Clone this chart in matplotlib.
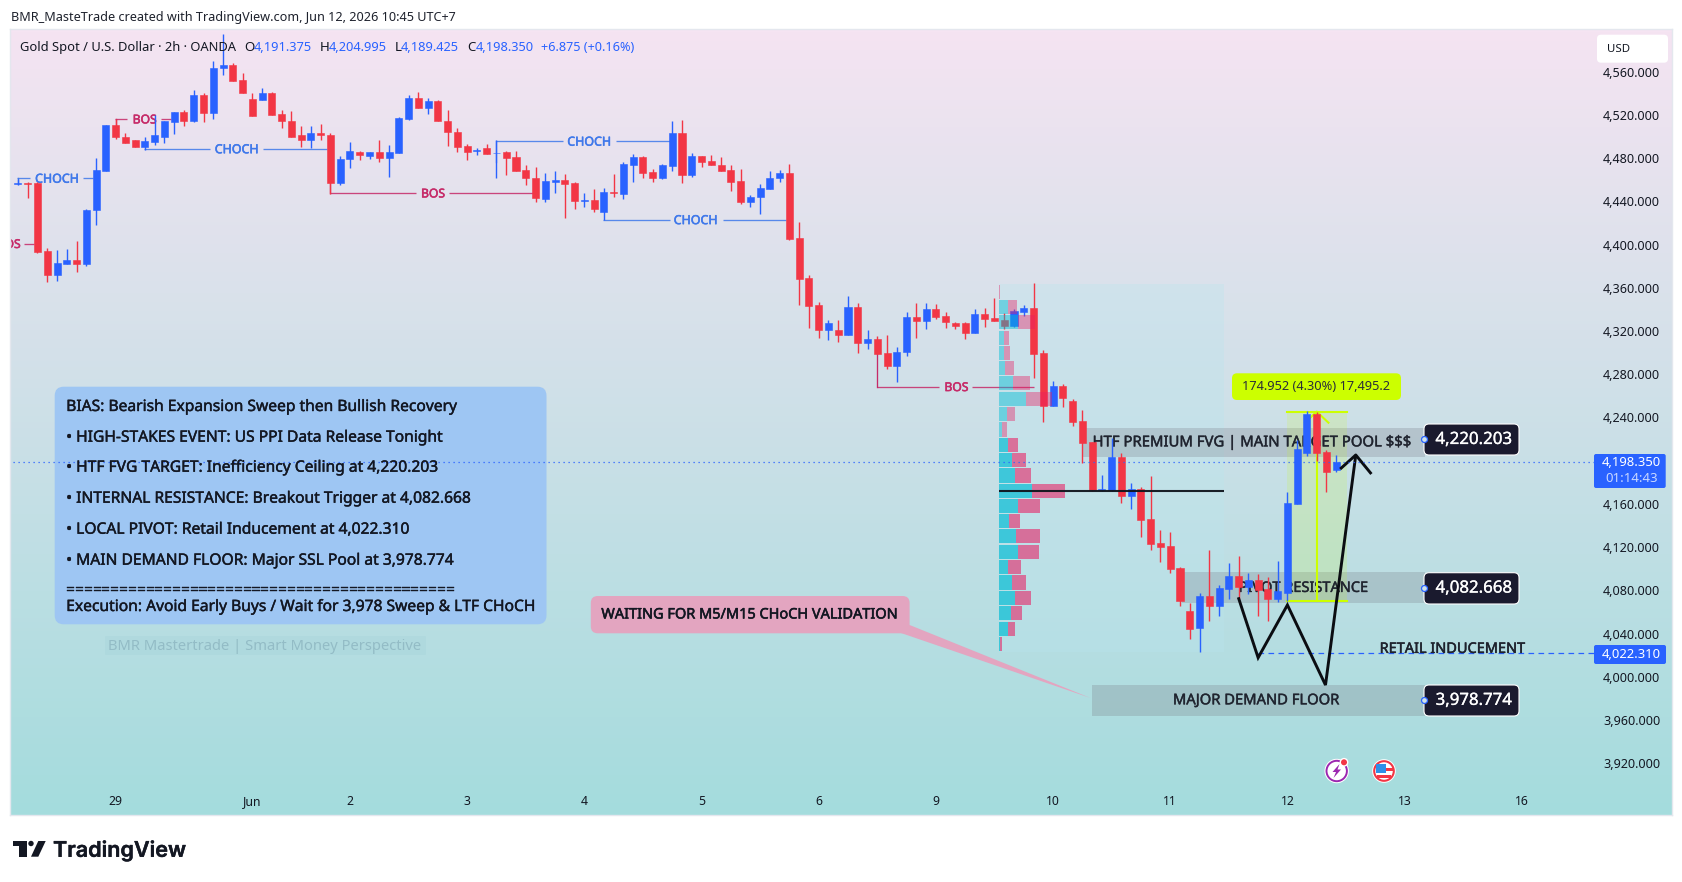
import numpy as np
import matplotlib
matplotlib.use("Agg")
import matplotlib.pyplot as plt
import matplotlib.patheffects as pe
from matplotlib.colors import LinearSegmentedColormap
from matplotlib.patches import FancyBboxPatch, Rectangle, Circle, Polygon
from matplotlib.transforms import Affine2D

plt.rcParams['font.family'] = ['Noto Sans', 'DejaVu Sans']

# ---------- data ----------
opens = [4456,4457,4457,4394,4372,4382,4386,4382,4432,4468,4511,4500,4497,4490,4495,4500,4513,4523,4514,4538,
         4522,4563,4566,4552,4535,4534,4540,4521,4514,4501,4497,4503,4501,4457,4479,4486,4482,4486,4480,4485,
         4516,4536,4526,4533,4514,4504,4491,4486.6,4489,4484.4,4486,4481,4469,4462,4442,4458,4460,4457,4440.6,4441,
         4430,4449,4447,4474,4481,4467,4462,4473,4503,4464,4482,4477,4474,4469,4459,4439,4444,4451,4462,4466,
         4406,4369,4344,4321,4321,4316,4342,4309,4313,4300,4288,4301,4333,4329,4340,4334,4327,4327,4318,4336,
         4332,4330,4325,4338,4341,4300,4251,4269,4255,4237,4217,4173,4173,4203,4167,4174,4146,4124,4121,4101,
         4061,4045,4075,4066,4081,4093,4083,4090,4081,4072,4078,4160,4207,4243,4208,4191.375]
highs = [4461,4458,4458,4397,4395,4396,4403,4433,4480,4511,4516,4503,4497,4500,4520,4514,4523,4525,4543,4540,
         4570,4595,4568,4559,4540,4545,4541,4525,4524,4510,4510,4512,4503,4482,4495,4487,4486,4497,4492,4518,
         4538,4541,4536,4534,4525,4508,4493,4489,4493,4497,4487,4487,4474,4472,4466,4468,4465,4458,4448,4451,
         4452,4465,4476,4484,4482,4470,4475,4514,4515,4485,4482,4483,4481,4474,4470,4446,4456,4468,4469,4475,
         4421,4372,4347,4330,4330,4352,4346,4321,4315,4316,4305,4338,4346,4346,4345,4338,4328,4328,4340,4341,
         4351,4337,4340,4344,4364,4302,4274,4271,4257,4247,4217,4187,4221,4207,4179,4176,4186,4136,4134,4102,
         4068,4078,4117,4085,4105,4112,4096,4095,4092,4107,4171,4219,4246,4245,4210,4204.995]
lows = [4455,4443,4392,4365,4366,4382,4375,4380,4418,4468,4498,4494,4490,4488,4492,4494,4502,4510,4513,4513,
        4516,4557,4551,4540,4519,4534,4520,4508,4500,4490,4489,4497,4447,4455,4471,4478,4479,4476,4463,4485,
        4515,4526,4521,4514,4491,4486,4478,4483,4484,4462,4464,4468,4455,4439,4439,4448,4425,4433,4435,4430,
        4423,4444,4442,4458,4462,4458,4461,4468,4457,4463,4472,4474,4468,4450,4438,4435,4428,4451,4458,4404,
        4344,4323,4314,4312,4310,4316,4300,4303,4299,4285,4273,4297,4314,4322,4331,4323,4322,4313,4318,4324,
        4329,4322,4324,4334,4277,4236,4251,4250,4232,4198,4172,4172,4172,4161,4155,4129,4117,4106,4096,4066,
        4035,4023,4052,4056,4072,4072,4077,4056,4052,4069,4070,4160,4204,4200,4171,4189.425]
closes = [4457,4456,4393,4372,4383,4386,4382,4432,4469,4511,4500,4494,4490,4496,4501,4514,4523,4514,4538,4522,
          4563,4566,4551,4540,4519,4540,4520,4514,4500,4497,4503,4501,4457,4479,4487,4483,4486,4480,4486,4517,
          4536,4526,4533,4514,4504,4490,4486,4487.2,4484,4485,4480,4468,4462,4443,4459,4460,4456,4440,4441.3,4433,
          4449,4448,4475,4481,4466,4462,4474,4503,4464,4482,4476,4474,4468,4458,4439,4444,4452,4462,4466,4405,
          4368,4343,4321,4327,4316,4342,4309,4313,4299,4288,4301,4333,4329,4340,4333,4328,4325,4318,4336,4331,
          4329,4325,4339,4341,4299,4251,4269,4258,4236,4216,4173,4174,4203,4167,4174,4145,4123,4120,4100,4070,
          4044,4075,4066,4082,4093,4083,4090,4080,4072,4079,4161,4211,4243,4207,4190,4198.35]
first_bar = -2

y_ticks = [4560,4520,4480,4440,4400,4360,4320,4280,4240,4200,4160,4120,4080,4040,4000,3960,3920]
y_tick_labels = ["4,560.000","4,520.000","4,480.000","4,440.000","4,400.000","4,360.000","4,320.000","4,280.000",
                 "4,240.000",None,"4,160.000","4,120.000","4,080.000","4,040.000","4,000.000","3,960.000","3,920.000"]
x_ticks = [8,22,32,44,56,68,80,92,104,116,128,140,152]
x_tick_labels = ["29","Jun","2","3","4","5","6","9","10","11","12","13","16"]

profile_price = [4356.5,4342.1,4328.2,4314.0,4299.7,4285.8,4271.5,4257.1,4243.2,4228.9,4214.6,4200.7,
                 4186.3,4172.0,4158.1,4144.2,4129.9,4115.5,4101.7,4087.3,4073.0,4059.1,4044.7,4030.4]
profile_buy = [0,27,57,15,15,18,42,81,24,9,27,39,48,99,57,30,51,57,27,39,48,36,27,3]
profile_sell = [3,27,51,15,18,27,51,78,24,15,30,42,48,99,66,33,72,63,39,42,48,33,21,6]
value_area_from = 10

fvg_levels = [("HTF PREMIUM FVG | MAIN TARGET POOL $$$", 4203.4, 4230.3, 107.07, 124.4, 4216.5, 320),
              ("PIVOT RESISTANCE", 4068.3, 4097.0, 117.2, 129.6, 4081.8, 130),
              ("MAJOR DEMAND FLOOR", 3963.7, 3992.4, 107.95, 124.75, 3977.8, 167)]
path_x = [122.97,125.0,128.0,131.9,135.0]
path_y = [4073.6,4017.7,4066.5,3992.4,4205.3]

info_lines = ["BIAS: Bearish Expansion Sweep then Bullish Recovery",
              "• HIGH-STAKES EVENT: US PPI Data Release Tonight",
              "• HTF FVG TARGET: Inefficiency Ceiling at 4,220.203",
              "• INTERNAL RESISTANCE: Breakout Trigger at 4,082.668",
              "• LOCAL PIVOT: Retail Inducement at 4,022.310",
              "• MAIN DEMAND FLOOR: Major SSL Pool at 3,978.774",
              "============================================",
              "Execution: Avoid Early Buys / Wait for 3,978 Sweep & LTF CHoCH"]
info_y = [407,437.7,467.7,498.7,529.7,560.7,590.7,607]

BLUE, RED = "#2962FF", "#F23645"
SMC_BLUE, SMC_PINK = "#3F78EA", "#C62A68"

# ---------- figure ----------
W, H = 1683, 882
fig = plt.figure(figsize=(W/100, H/100), dpi=100, facecolor="white")
ax = fig.add_axes([10/W, 1-815/H, (1672-10)/W, (815-29)/H])
pxT = Affine2D().scale(1/W, -1/H).translate(0, 1) + fig.transFigure

cmap = LinearSegmentedColormap.from_list("bg", ["#F5E4F2", "#A4DCDD"])
ax.imshow(np.linspace(0, 1, 256).reshape(-1, 1), cmap=cmap, aspect="auto",
          extent=(0, 1, 0, 1), transform=ax.transAxes, zorder=0)
ax.set_xlim((10-37.5)/9.765, (1672-37.5)/9.765)
ax.set_ylim(4560-(815-71.7)/1.0806, 4560+(71.7-29)/1.0806)
for s in ax.spines.values():
    s.set_color("#E4E7EE")
    s.set_linewidth(1)

ax.yaxis.tick_right()
ax.set_yticks(y_ticks)
ax.set_yticklabels([l if l else "" for l in y_tick_labels], fontsize=9.05, color="#131722")
ax.tick_params(axis="y", length=0, pad=-49.7)
ax.set_xticks(x_ticks)
ax.set_xticklabels(x_tick_labels, fontsize=8.8, color="#131722")
ax.tick_params(axis="x", length=0, pad=-14.2)

renderer = fig.canvas.get_renderer()
def fit(t, w):
    t.set_fontsize(t.get_fontsize()*w/t.get_window_extent(renderer).width)
    return t

def thick(t, color, w=0.35):
    t.set_path_effects([pe.withStroke(linewidth=w, foreground=color)])
    return t

def rbox(x0, y0, x1, y1, r, z, **kw):
    p = FancyBboxPatch((x0+r, y0+r), x1-x0-2*r, y1-y0-2*r, boxstyle=f"round,pad={r},rounding_size={r}",
                       transform=pxT, zorder=z, clip_on=False, **kw)
    ax.add_patch(p)
    return p

def ptext(x, y, s, z=20, **kw):
    kw.setdefault("va", "center")
    return ax.text(x, y, s, transform=pxT, zorder=z, clip_on=False, **kw)

# ---------- tools below candles ----------
for txt, lo, hi, x0, tx, ty, tw in fvg_levels:
    ax.fill_between([x0, 142.1], lo, hi, color="#787B86", alpha=0.27, lw=0, zorder=2)
    thick(fit(ax.text(tx, ty, txt, ha="center", va="center", color="#1E222D", alpha=0.9,
                      fontsize=10, zorder=2.2), tw), "#1E222D")

ax.fill_between([128.0, 134.07], 4070.5, 4245.4, color="#CCFF00", alpha=0.14, lw=0, zorder=2.1)
ax.plot([128.0, 134.07], [4245.4, 4245.4], color="#CCFF00", lw=1.5, zorder=2.3)
ax.plot([128.0, 134.07], [4070.5, 4070.5], color="#CCFF00", lw=1.5, zorder=2.3)
ax.plot([131.0, 131.0], [4070.5, 4245.4], color="#CCFF00", lw=1.5, zorder=2.3)
ax.plot([129.8, 131.0, 132.2], [4235.2, 4245.4, 4235.2], color="#CCFF00", lw=1.5, zorder=2.3)

# ---------- SMC levels ----------
smc = [("CHOCH", SMC_BLUE, 4461.3, [(-2.09,-0.77),(4.64,5.66)], 2.0),
       ("BOS", SMC_PINK, 4516.2, [(7.97,9.2),(12.65,13.7)], 10.97),
       ("CHOCH", SMC_BLUE, 4488.6, [(10.9,17.7),(23.1,29.66)], 20.4),
       ("BOS", SMC_PINK, 4447.7, [(29.96,38.77),(42.1,50.8)], 40.5),
       ("BOS", SMC_PINK, 4400.9, [(-1.4,-0.37)], -2.96),
       ("CHOCH", SMC_BLUE, 4495.6, [(47,53.8),(59.2,64.8)], 56.5),
       ("CHOCH", SMC_BLUE, 4423.0, [(57.9,64.8),(70.2,76.7)], 67.4),
       ("BOS", SMC_PINK, 4268.5, [(86,92.3),(95.7,102)], 94.1)]
for label, col, price, segs, tx in smc:
    for a, b in segs:
        ax.plot([a, b], [price, price], color=col, lw=0.95, alpha=0.85, zorder=2.4, solid_capstyle="butt")
    t = ax.text(tx, price-0.8, label, color=col, ha="center", va="center", fontsize=9, zorder=2.4, clip_on=True)
    thick(fit(t, 44 if label == "CHOCH" else 24), col, 0.4)
ticks = [(-2, 4456, 4461.3, SMC_BLUE), (8, 4511, 4516.2, SMC_PINK), (47, 4476, 4495.6, SMC_BLUE),
         (30, 4457, 4447.7, SMC_PINK), (86, 4299, 4268.5, SMC_PINK)]
for x, a, b, col in ticks:
    ax.plot([x, x], [a, b], color=col, lw=0.95, zorder=2.4)

# ---------- info panel ----------
rbox(54.7, 386.7, 546.5, 624.3, 9, 2.8, fc="#9EC6F3", ec="none")
info_fs = fit(ptext(66.2, info_y[-1], info_lines[-1], z=6.5, color="#131722", fontsize=10), 470).get_fontsize()
thick(ax.texts[-1], "#131722", 0.3)
for s, y in zip(info_lines[:-1], info_y[:-1]):
    t = ptext(66.2, y, s, z=6.5, color="#131722", fontsize=info_fs)
    thick(t, "#131722", 0.3)
    if s.startswith("="):
        fit(t, 386)
rbox(105, 636, 426, 655, 1, 2.8, fc="#9FD0D6", ec="none", alpha=0.25)
fit(ptext(108, 646.5, "BMR Mastertrade | Smart Money Perspective", z=3, color="#93BCC6", fontsize=10), 315)

# ---------- candles ----------
o, h, l, c = map(np.array, (opens, highs, lows, closes))
bars = np.arange(len(o)) + first_bar
cols = [BLUE if ci >= oi else RED for oi, ci in zip(o, c)]
ax.vlines(bars, l, h, colors=cols, lw=1.0, zorder=3)
ax.bar(bars, np.abs(c-o), bottom=np.minimum(o, c), width=0.72, color=cols, edgecolor=cols, lw=0.4, zorder=3.1)

# ---------- volume profile ----------
ax.fill_between([98.46, 121.5], 4023.3, 4363.5, color="#B9E6EE", alpha=0.32, lw=0, zorder=1.5)
k = 1/(3*9.765)
for i, (p, b, s) in enumerate(zip(profile_price, profile_buy, profile_sell)):
    strong = i >= value_area_from
    ax.barh(p, b*k, height=13, left=98.46, color="#00BCD4", alpha=0.68 if strong else 0.45, lw=0, zorder=4)
    ax.barh(p, s*k, height=13, left=98.46+b*k, color="#E91E63", alpha=0.58 if strong else 0.40, lw=0, zorder=4)
ax.plot([98.46, 121.5], [4172.3, 4172.3], color="#0F141C", lw=1.5, alpha=0.95, zorder=5, solid_capstyle="butt")

# ---------- price lines ----------
ax.plot([-3, 159.4], [4198.35, 4198.35], color=BLUE, lw=0.9, ls=(0, (1, 3)), zorder=6, clip_on=True)
ax.plot([125.0, 159.4], [4022.31, 4022.31], color=BLUE, lw=0.9, ls=(0, (4.5, 3.5)), zorder=4.5)
thick(fit(ax.text(144.85, 4025.4, "RETAIL INDUCEMENT", ha="center", va="center", color="#1E222D", fontsize=10,
                  zorder=6), 146), "#1E222D")

# ---------- drawn path ----------
ax.plot(path_x, path_y, color="#0B0D12", lw=2.1, zorder=5, solid_joinstyle="miter", solid_capstyle="butt")
ax.plot([133.4, 135.0, 136.6], [4192.3, 4205.3, 4187.7], color="#0B0D12", lw=2.1, zorder=5, solid_capstyle="butt")

# ---------- dark price tags ----------
for price, y0, y1, s in [(4220.203, 424, 455, "4,220.203"), (4082.668, 572.7, 604, "4,082.668"),
                         (3978.774, 685, 716, "3,978.774")]:
    rbox(1424, y0, 1519, y1, 5, 7, fc="#1A1A2E", ec="white", lw=0.8)
    thick(fit(ax.text(147.1, price-1, s, color="white", ha="center", va="center", fontsize=12, fontweight="bold",
                      zorder=8), 77), "white", 0.2)
    ax.plot([142.0], [price], "o", ms=4.3, mfc="#CFE3EA", mec=BLUE, mew=0.9, zorder=8)

# ---------- yellow measure label ----------
rbox(1232, 373.3, 1401, 400, 5, 7, fc="#CCFF00", ec="none")
fit(ptext(1316.5, 387, "174.952 (4.30%) 17,495.2", ha="center", color="#2A2E39", fontsize=9), 148)

# ---------- pink callout ----------
ax.add_patch(Polygon([(901, 633), (909.6, 625), (1090.5, 698)], closed=True, transform=pxT, fc="#E3A5C0",
                     ec="none", zorder=6))
rbox(590.8, 596, 909.6, 633.3, 7, 6, fc="#E3A5C0", ec="none")
thick(fit(ptext(749, 615, "WAITING FOR M5/M15 CHoCH VALIDATION", ha="center", color="#131722", fontsize=10), 297),
      "#131722", 0.4)

# ---------- right-hand price labels ----------
rbox(1594, 454, 1665.7, 488, 2, 7, fc=BLUE, ec="none")
fit(ptext(1631.7, 463, "4,198.350", ha="center", color="white", fontsize=9, fontweight="bold"), 59)
fit(ptext(1631.2, 478, "01:14:43", ha="center", color="#C9D8FF", fontsize=9, fontweight="bold"), 52)
rbox(1594, 645, 1666, 664, 2, 7, fc=BLUE, ec="none")
fit(ptext(1631.7, 654, "4,022.310", ha="center", color="white", fontsize=9, fontweight="bold"), 59)
rbox(1597, 34.7, 1668, 62.7, 4, 7, fc="white", ec="none")
fit(ptext(1607, 49, "USD", color="#131722", fontsize=8.5), 23)

# ---------- legend line ----------
fit(ptext(20, 47.5, "Gold Spot / U.S. Dollar · 2h · OANDA", color="#131722", fontsize=9), 216)
legend_parts = [(244.6, "O", "4,191.375"), (319.6, "H", "4,204.995"),
                (394.6, "L", "4,189.425"), (467.0, "C", "4,198.350")]
for x, letter, val in legend_parts:
    ptext(x, 47.5, letter, color="#131722", fontsize=9.6)
    fit(ptext(x + (6.2 if letter == "L" else 9), 47.5, val, color=BLUE, fontsize=9), 58)
fit(ptext(541, 47.5, "+6.875 (+0.16%)", color=BLUE, fontsize=9), 93)

# ---------- header / footer ----------
fit(fig.text(11/W, 1-17.5/H, "BMR_MasteTrade created with TradingView.com, Jun 12, 2026 10:45 UTC+7",
             color="#1E222D", fontsize=9, va="center"), 444)

col = "#131722"
for poly in [[(13.3,841),(26.7,841),(26.7,856.7),(19,856.7),(19,846),(13.3,846)],
             [(38.3,841),(45.7,841),(38.3,856.7),(31,856.7)]]:
    ax.add_patch(Polygon([(a, b) for a, b in poly], closed=True, transform=pxT, fc=col, ec="none", clip_on=False, zorder=9))
ax.add_patch(Circle((31, 843.5), 2.7, transform=pxT, fc=col, ec="none", clip_on=False, zorder=9))
thick(fit(ptext(53, 850.3, "TradingView", color=col, fontsize=16, fontfamily="Inter", fontweight="semibold"), 133),
      col, 0.3)

# ---------- event icons ----------
def circ(x, y, r, fc, ec="none", lw=0, z=7):
    ax.add_patch(Circle((x, y), r, transform=pxT, fc=fc, ec=ec, lw=lw, zorder=z, clip_on=False))
circ(1336.7, 771, 12.2, "white")
circ(1336.7, 771, 10.2, "none", "#9C27B0", 1.4, 7.1)
ax.add_patch(Polygon([(1339.5,764),(1332.5,772),(1336,772),(1333.5,778),(1341,769.5),(1337.5,769.5)],
                     closed=True, transform=pxT, fc="#9C27B0", ec="none", zorder=7.2, clip_on=False))
circ(1344, 762.3, 4.4, "white", z=7.3)
circ(1344, 762.3, 3, RED, z=7.4)
circ(1384, 771, 11.8, "white")
circ(1384, 771, 9.8, "white", RED, 1.5, 7.1)
for y0, y1, x0, x1 in [(767.5, 771, 1376, 1393), (774.5, 778, 1377, 1391)]:
    ax.add_patch(Rectangle((x0, y0), x1-x0, y1-y0, transform=pxT, fc=RED, ec="none", zorder=7.2, clip_on=False))
ax.add_patch(Rectangle((1376.5, 764), 9.5, 8.5, transform=pxT, fc="#2E8FE8", ec="none", zorder=7.3, clip_on=False))

fig.savefig("out.png", dpi=100, facecolor="white")
